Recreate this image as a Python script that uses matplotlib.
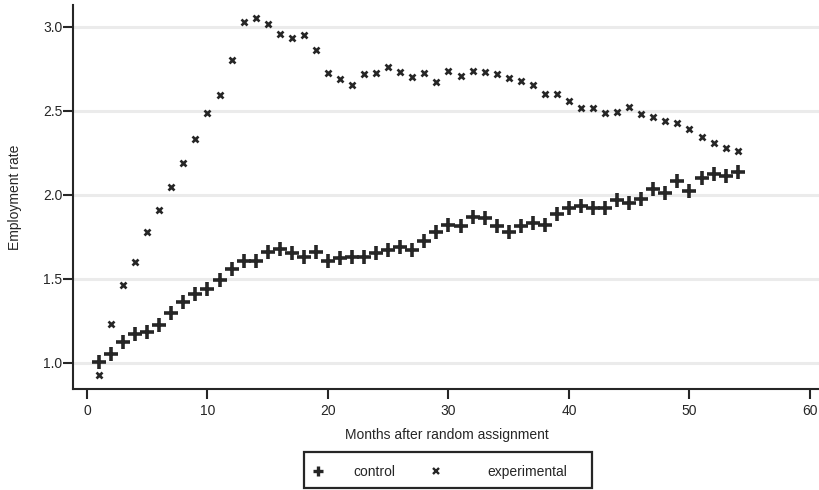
import matplotlib
matplotlib.use("Agg")
import matplotlib.pyplot as plt
from matplotlib.patches import Rectangle
from matplotlib.lines import Line2D

plt.rcParams['font.family'] = ['Liberation Sans', 'DejaVu Sans']

months = list(range(1, 55))

control = [1.004, 1.052, 1.125, 1.171, 1.181, 1.225, 1.295, 1.359, 1.408, 1.440,
           1.494, 1.558, 1.604, 1.604, 1.657, 1.679, 1.652, 1.628, 1.662, 1.604,
           1.624, 1.632, 1.632, 1.652, 1.674, 1.692, 1.674, 1.722, 1.777, 1.823,
           1.813, 1.869, 1.861, 1.817, 1.781, 1.813, 1.833, 1.820, 1.883, 1.922,
           1.934, 1.920, 1.922, 1.970, 1.954, 1.974, 2.032, 2.012, 2.080, 2.022,
           2.100, 2.124, 2.112, 2.134]

experimental = [0.926, 1.231, 1.464, 1.602, 1.779, 1.912, 2.047, 2.188, 2.331, 2.485,
                2.597, 2.804, 3.028, 3.056, 3.020, 2.956, 2.936, 2.952, 2.860, 2.725,
                2.693, 2.655, 2.719, 2.723, 2.760, 2.729, 2.701, 2.723, 2.675, 2.737,
                2.705, 2.739, 2.729, 2.717, 2.697, 2.681, 2.653, 2.603, 2.599, 2.561,
                2.515, 2.517, 2.489, 2.495, 2.521, 2.479, 2.463, 2.439, 2.427, 2.391,
                2.347, 2.309, 2.279, 2.259]

series_names = ["control", "experimental"]
xticks = [0, 10, 20, 30, 40, 50, 60]
yticks = [1.0, 1.5, 2.0, 2.5, 3.0]
ytick_labels = ["1.0", "1.5", "2.0", "2.5", "3.0"]

ink = "#262626"
fs = 10
W, H = 820, 490

fig = plt.figure(figsize=(8.2, 4.9), dpi=100)
ax = fig.add_axes([73/W, 101/H, 1 - 73/W, 384/H])

for yt in yticks:
    ax.axhline(yt, color="#ebebeb", lw=2.2, zorder=0)

ax.plot(months, control, linestyle="none", marker="+", markersize=9.5,
        markeredgewidth=2.6, color=ink, zorder=3)
ax.plot(months, experimental, linestyle="none", marker="x", markersize=5,
        markeredgewidth=1.9, color=ink, zorder=3)

ax.set_xlim(-1.16, 60.83)
ax.set_ylim(0.843, 3.131)
ax.set_xticks(xticks)
ax.set_xticklabels([str(t) for t in xticks], fontsize=fs, color=ink)
ax.set_yticks(yticks)
ax.set_yticklabels(ytick_labels, fontsize=fs, color=ink)

for s in ["top", "right"]:
    ax.spines[s].set_visible(False)
for s in ["left", "bottom"]:
    ax.spines[s].set_linewidth(1.5)
    ax.spines[s].set_color(ink)
ax.tick_params(axis="both", direction="out", length=7, width=1.5, color=ink)
ax.tick_params(axis="x", pad=4)
ax.tick_params(axis="y", pad=0.8)

ax.set_xlabel("Months after random assignment", fontsize=fs, color=ink, labelpad=7)
ax.set_ylabel("Employment rate", fontsize=fs, color=ink, labelpad=15)

# legend: two frameless entries inside a drawn box
h_ctrl = Line2D([], [], linestyle="none", marker="+", markersize=7.5,
                markeredgewidth=2.4, color=ink)
h_exp = Line2D([], [], linestyle="none", marker="x", markersize=4.2,
               markeredgewidth=1.7, color=ink)
fpx = fs * 100 / 72
hl = 1.4
leg1 = fig.legend([h_ctrl], [series_names[0]], loc="center left",
                  bbox_to_anchor=((318 - hl * fpx / 2) / W, 1 - 471.5 / H),
                  frameon=False, fontsize=fs, handlelength=hl,
                  handletextpad=(353 - 318 - hl * fpx / 2) / fpx,
                  borderpad=0, borderaxespad=0)
leg2 = fig.legend([h_exp], [series_names[1]], loc="center left",
                  bbox_to_anchor=((436 - hl * fpx / 2) / W, 1 - 471.5 / H),
                  frameon=False, fontsize=fs, handlelength=hl,
                  handletextpad=(487 - 436 - hl * fpx / 2) / fpx,
                  borderpad=0, borderaxespad=0)
for lg in (leg1, leg2):
    for t in lg.get_texts():
        t.set_color(ink)

fig.patches.append(Rectangle((304 / W, 1 - 487.5 / H), (592 - 304) / W, (487.5 - 452) / H,
                             transform=fig.transFigure, fill=False,
                             edgecolor=ink, linewidth=1.6))

fig.savefig("out.png", dpi=100)
